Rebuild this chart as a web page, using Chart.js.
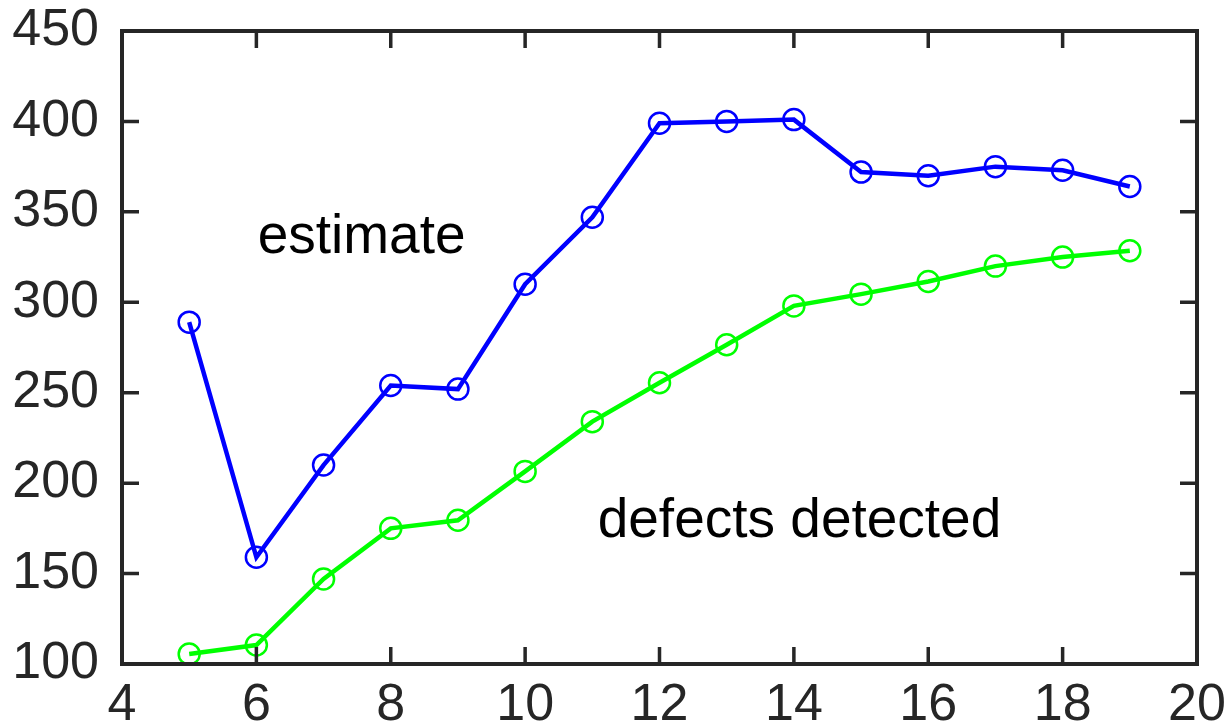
<!DOCTYPE html>
<html>
<head>
<meta charset="utf-8">
<script src="https://cdn.jsdelivr.net/npm/chart.js@4"></script>
<style>
  html, body { margin: 0; padding: 0; background: #fff; }
  #wrap { width: 1230px; height: 726px; }
</style>
</head>
<body>
<div id="wrap"><canvas id="myChart" width="1230" height="726"></canvas></div>
<script>
var weeks = [5, 6, 7, 8, 9, 10, 11, 12, 13, 14, 15, 16, 17, 18, 19];
var estimate = [289, 159, 210, 254, 252, 310, 347, 399, 400, 401, 372, 370, 375, 373, 364];
var detected = [105.5, 110.5, 147, 175, 179.5, 206.5, 234, 255.5, 276.5, 298, 304.5, 311.5, 320, 325, 328.5];
var xTicks = [4, 6, 8, 10, 12, 14, 16, 18, 20];
var yTicks = [100, 150, 200, 250, 300, 350, 400, 450];

var axisColor = '#262626';
var fontFamily = '"Liberation Sans", Arial, sans-serif';

function points(ys) {
  return weeks.map(function (w, i) { return { x: w, y: ys[i] }; });
}

// box with inward ticks on all four sides, plus the two text labels
var boxPlugin = {
  id: 'box',
  afterDraw: function (chart) {
    var ctx = chart.ctx, a = chart.chartArea;
    var xs = chart.scales.x, ys = chart.scales.y;
    var len = 17;
    ctx.save();
    ctx.strokeStyle = axisColor;
    ctx.lineWidth = 3.5;
    ctx.lineCap = 'butt';
    ctx.beginPath();
    xTicks.forEach(function (t) {
      var px = xs.getPixelForValue(t);
      ctx.moveTo(px, a.bottom); ctx.lineTo(px, a.bottom - len);
      ctx.moveTo(px, a.top); ctx.lineTo(px, a.top + len);
    });
    yTicks.forEach(function (t) {
      var py = ys.getPixelForValue(t);
      ctx.moveTo(a.left, py); ctx.lineTo(a.left + len, py);
      ctx.moveTo(a.right, py); ctx.lineTo(a.right - len, py);
    });
    ctx.stroke();
    ctx.lineWidth = 4;
    ctx.strokeRect(a.left, a.top, a.right - a.left, a.bottom - a.top);

    ctx.fillStyle = '#000';
    ctx.font = '55px ' + fontFamily;
    ctx.textBaseline = 'alphabetic';
    ctx.textAlign = 'left';
    ctx.fillText('estimate', xs.getPixelForValue(6.02), ys.getPixelForValue(327));
    ctx.fillText('defects detected', xs.getPixelForValue(11.08), ys.getPixelForValue(170));
    ctx.restore();
  }
};

var ctx = document.getElementById('myChart').getContext('2d');
var chart = new Chart(ctx, {
  type: 'line',
  data: {
    datasets: [
      {
        label: 'estimate',
        data: points(estimate),
        borderColor: '#0000ff',
        borderWidth: 4.5,
        pointStyle: 'circle',
        pointRadius: 10.5,
        pointBorderWidth: 2.5,
        pointBorderColor: '#0000ff',
        pointBackgroundColor: 'rgba(0,0,0,0)',
        fill: false,
        tension: 0
      },
      {
        label: 'defects detected',
        data: points(detected),
        borderColor: '#00ff00',
        borderWidth: 4.5,
        pointStyle: 'circle',
        pointRadius: 10.5,
        pointBorderWidth: 2.5,
        pointBorderColor: '#00ff00',
        pointBackgroundColor: 'rgba(0,0,0,0)',
        fill: false,
        tension: 0
      }
    ]
  },
  options: {
    responsive: false,
    animation: false,
    layout: { padding: { top: 31, right: 33, left: 0, bottom: 0 } },
    plugins: {
      legend: { display: false },
      tooltip: { enabled: false }
    },
    scales: {
      x: {
        type: 'linear',
        min: 4,
        max: 20,
        afterBuildTicks: function (s) { s.ticks = xTicks.map(function (v) { return { value: v }; }); },
        afterFit: function (s) { s.height = 62; s.paddingLeft = 0; s.paddingRight = 0; },
        grid: { display: false },
        border: { display: false },
        ticks: {
          color: axisColor,
          font: { size: 52, family: fontFamily },
          padding: 2,
          maxRotation: 0,
          autoSkip: false
        }
      },
      y: {
        type: 'linear',
        min: 100,
        max: 450,
        afterBuildTicks: function (s) { s.ticks = yTicks.map(function (v) { return { value: v }; }); },
        afterFit: function (s) { s.width = 122; s.paddingTop = 0; s.paddingBottom = 0; },
        grid: { display: false },
        border: { display: false },
        ticks: {
          color: axisColor,
          font: { size: 52, family: fontFamily },
          padding: 15,
          autoSkip: false
        }
      }
    }
  },
  plugins: [boxPlugin]
});
</script>
</body>
</html>
